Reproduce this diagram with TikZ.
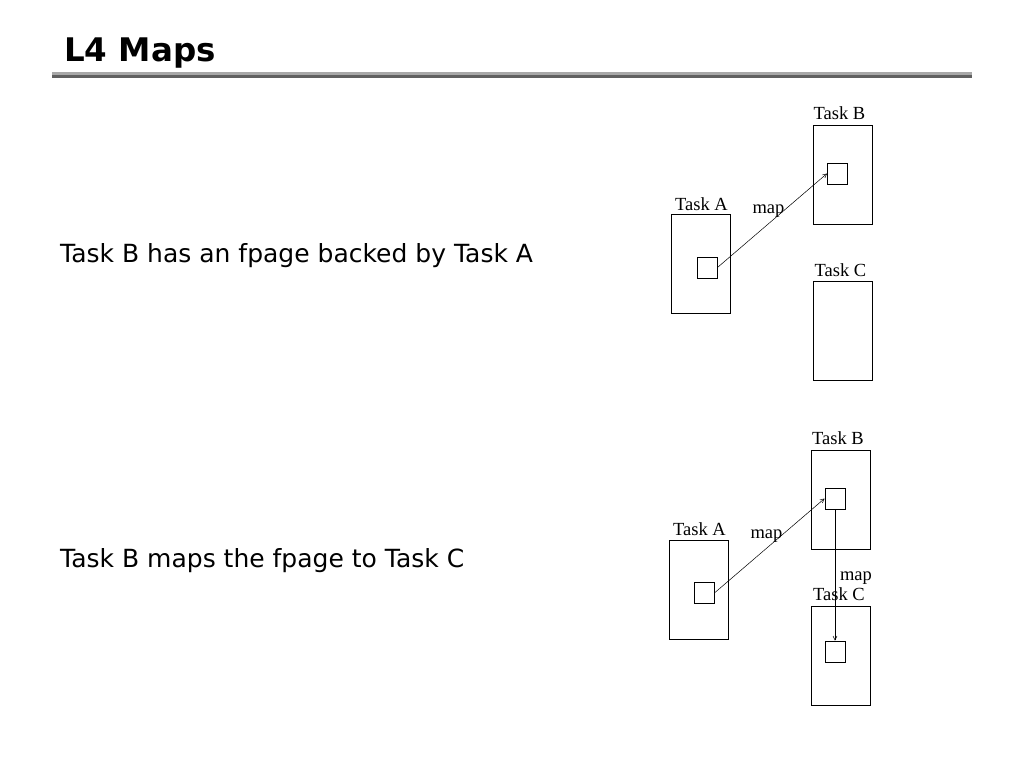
\documentclass[tikz,border=0pt]{standalone}
\usepackage{fontspec}
\usetikzlibrary{arrows.meta}
\setmainfont{Liberation Serif}
\newfontfamily\slidefont{DejaVu Sans}
\definecolor{ink}{HTML}{000000}
\definecolor{rulelight}{HTML}{A8A8A8}
\definecolor{ruledark}{HTML}{606060}
\newcommand{\titel}{\slidefont\bfseries\fontsize{32.5}{38}\selectfont}
\newcommand{\txt}{\slidefont\fontsize{25}{30}\selectfont}
\newcommand{\lbl}{\fontsize{18.5}{22}\selectfont}
\tikzset{taskbox/.style={draw=ink,line width=1pt,minimum width=59pt,minimum height=99pt,inner sep=0},
  pagebox/.style={draw=ink,line width=0.9pt,minimum width=20pt,minimum height=21pt,inner sep=0},
  mappfeil/.style={line width=0.5pt,-{Straight Barb[length=4pt,width=4pt]}},
  tasklbl/.style={anchor=base,inner sep=0,text=ink,font=\lbl}}

\begin{document}
\begin{tikzpicture}[x=1pt,y=-1pt]
\useasboundingbox (0,0) rectangle (1024,768);
\node[anchor=base west,inner sep=0,text=ink,font=\titel] (titel) at (64,61) {L4 Maps};
\fill[rulelight] (52,72) rectangle (972,75);
\fill[ruledark] (52,75) rectangle (972,78);
\node[anchor=base west,inner sep=0,text=ink,font=\txt] (satz1) at (60,262) {Task B has an fpage backed by Task A};
\node[anchor=base west,inner sep=0,text=ink,font=\txt] (satz2) at (60,567) {Task B maps the fpage to Task C};
% oben: B bekommt die fpage von A
\node[taskbox] (boxA1) at (700.5,263.5) {};
\node[taskbox] (boxB1) at (842.5,174.5) {};
\node[taskbox] (boxC1) at (842.5,330.5) {};
\node[pagebox] (pgA1) at (707,267.5) {};
\node[pagebox] (pgB1) at (837.5,173.5) {};
\node[tasklbl] (lblA1) at (701.5,210) {Task A};
\node[tasklbl] (lblB1) at (839.5,119) {Task B};
\node[tasklbl] (lblC1) at (840.5,276) {Task C};
\node[tasklbl] (map1) at (768.5,213) {map};
\draw[mappfeil] (pgA1.east) -- (pgB1.west);
% unten: B gibt die fpage an C weiter
\node[taskbox] (boxA2) at (698.5,589.5) {};
\node[taskbox] (boxB2) at (840.5,499.5) {};
\node[taskbox] (boxC2) at (840.5,655.5) {};
\node[pagebox] (pgA2) at (704.5,592.5) {};
\node[pagebox] (pgB2) at (835,498.5) {};
\node[pagebox] (pgC2) at (835.5,651.5) {};
\node[tasklbl] (lblA2) at (699.5,535) {Task A};
\node[tasklbl] (lblB2) at (838,444) {Task B};
\node[tasklbl] (lblC2) at (839,600) {Task C};
\node[tasklbl] (map2) at (766.5,538) {map};
\node[tasklbl] (map3) at (856,580) {map};
\draw[mappfeil] (pgA2.east) -- (pgB2.west);
\draw[mappfeil] (pgB2.south) -- (pgB2.south |- pgC2.north);
\end{tikzpicture}
\end{document}
